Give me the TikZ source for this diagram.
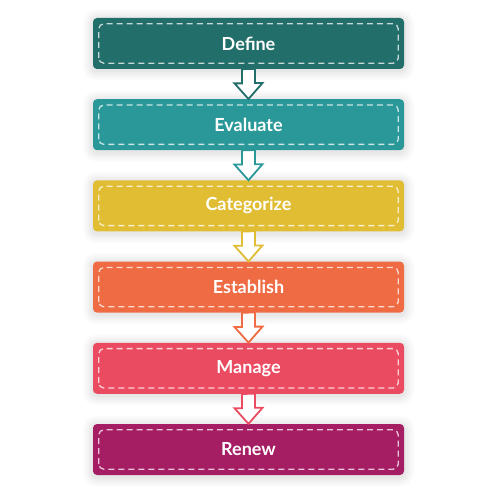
\documentclass[tikz,border=0pt]{standalone}
\usepackage{fontspec}
\setmainfont{Lato}
\definecolor{cdefine}{HTML}{226E6A}
\definecolor{cevaluate}{HTML}{2A9898}
\definecolor{ccategorize}{HTML}{E0BD33}
\definecolor{cestablish}{HTML}{EF6B43}
\definecolor{cmanage}{HTML}{EB4B61}
\definecolor{crenew}{HTML}{A51E64}
\tikzset{
  glow/.style={preaction={draw=black, draw opacity=0.014, line width=#1, transform canvas={yshift=-1.5pt}}},
  stage/.style={rectangle, rounded corners=4pt, minimum width=311pt, minimum height=51pt,
    fill=#1, text=white, font=\fontsize{18}{21}\selectfont\bfseries,
    glow=20pt, glow=16pt, glow=12pt, glow=9pt, glow=6pt, glow=3pt},
  frame/.style={draw=white, draw opacity=0.75, line width=1.3pt, dash pattern=on 6pt off 4pt, rounded corners=5pt},
  flow/.style={draw=#1, fill=white, line width=1.8pt, line join=miter}
}
\begin{document}
\begin{tikzpicture}[x=1pt,y=1pt]
\useasboundingbox[fill=white] (0,0) rectangle (497,496);
\node[stage=cdefine] (define) at (248.5,452.5){Define};
\node[stage=cevaluate] (evaluate) at (248.5,371.3){Evaluate};
\node[stage=ccategorize] (categorize) at (248.5,290.1){Categorize};
\node[stage=cestablish] (establish) at (248.5,208.9){Establish};
\node[stage=cmanage] (manage) at (248.5,127.7){Manage};
\node[stage=crenew] (renew) at (248.5,46.5){Renew};
\draw[frame] ([shift={(6,6)}]define.south west) rectangle ([shift={(-6,-6)}]define.north east);
\draw[frame] ([shift={(6,6)}]evaluate.south west) rectangle ([shift={(-6,-6)}]evaluate.north east);
\draw[frame] ([shift={(6,6)}]categorize.south west) rectangle ([shift={(-6,-6)}]categorize.north east);
\draw[frame] ([shift={(6,6)}]establish.south west) rectangle ([shift={(-6,-6)}]establish.north east);
\draw[frame] ([shift={(6,6)}]manage.south west) rectangle ([shift={(-6,-6)}]manage.north east);
\draw[frame] ([shift={(6,6)}]renew.south west) rectangle ([shift={(-6,-6)}]renew.north east);
\draw[flow=cdefine](define.south) ++(-6.5,0) -- ++(0,-14.2) -- ++(-7.5,0) -- (evaluate.north) -- ++(14,16) -- ++(-7.5,0) -- ++(0,14.2) -- cycle;
\draw[flow=cevaluate](evaluate.south) ++(-6.5,0) -- ++(0,-14.2) -- ++(-7.5,0) -- (categorize.north) -- ++(14,16) -- ++(-7.5,0) -- ++(0,14.2) -- cycle;
\draw[flow=ccategorize](categorize.south) ++(-6.5,0) -- ++(0,-14.2) -- ++(-7.5,0) -- (establish.north) -- ++(14,16) -- ++(-7.5,0) -- ++(0,14.2) -- cycle;
\draw[flow=cestablish](establish.south) ++(-6.5,0) -- ++(0,-14.2) -- ++(-7.5,0) -- (manage.north) -- ++(14,16) -- ++(-7.5,0) -- ++(0,14.2) -- cycle;
\draw[flow=cmanage](manage.south) ++(-6.5,0) -- ++(0,-14.2) -- ++(-7.5,0) -- (renew.north) -- ++(14,16) -- ++(-7.5,0) -- ++(0,14.2) -- cycle;
\end{tikzpicture}
\end{document}
